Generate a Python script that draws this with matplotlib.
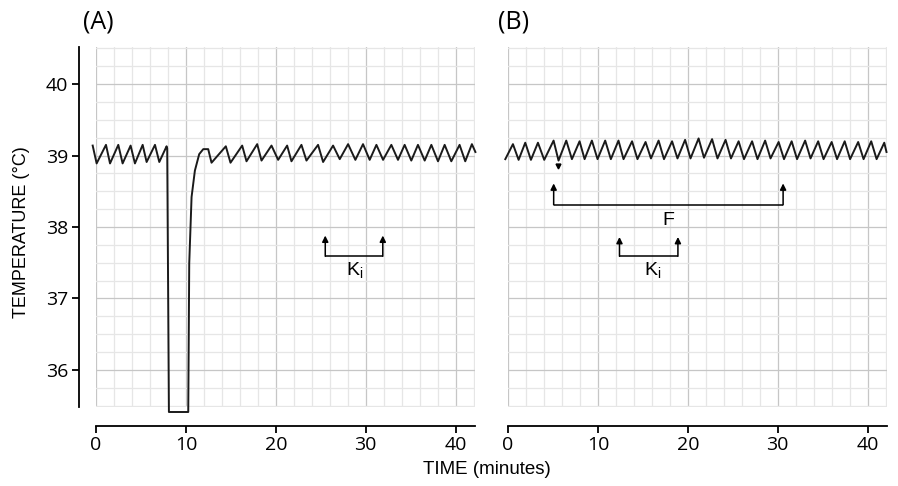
import matplotlib
matplotlib.use("Agg")
import matplotlib.pyplot as plt

# ---------------- data ----------------
# Panel A: body temperature trace (minutes, deg C)
a_time = [-0.37, 0.07, 1.11, 1.56, 2.48, 2.96, 3.85, 4.33, 5.19, 5.63, 6.56, 7.04, 7.85,
          7.92, 8.11, 10.26, 10.37, 10.63, 11.0, 11.48, 11.93, 12.48,
          12.85, 14.44, 14.96, 16.26, 16.74, 17.93, 18.41, 19.52, 20.26, 21.26, 21.74,
          22.85, 23.41, 24.70, 25.26, 26.37, 27.11, 28.04, 28.85, 29.70, 30.44, 31.19,
          31.93, 32.85, 33.59, 34.33, 35.07, 35.81, 36.56, 37.30, 38.04, 38.78, 39.52,
          40.44, 41.07, 41.81, 42.2]
a_temp = [39.14, 38.89, 39.15, 38.89, 39.15, 38.89, 39.14, 38.89, 39.15, 38.91, 39.15, 38.91, 39.13,
          39.10, 35.41, 35.41, 37.49, 38.42, 38.79, 39.02, 39.09, 39.09,
          38.90, 39.13, 38.90, 39.14, 38.92, 39.16, 38.93, 39.14, 38.94, 39.14, 38.92,
          39.15, 38.93, 39.15, 38.91, 39.14, 38.95, 39.16, 38.94, 39.16, 38.94, 39.15,
          38.94, 39.15, 38.94, 39.15, 38.93, 39.15, 38.93, 39.15, 38.92, 39.15, 38.92,
          39.15, 38.92, 39.16, 39.05]

# Panel B: body temperature trace (minutes, deg C)
b_time = [-0.3, 0.55, 1.18, 1.92, 2.55, 3.33, 4.03, 5.07, 5.62, 6.48, 7.11, 7.96, 8.52,
          9.33, 9.96, 10.81, 11.44, 12.29, 12.85, 13.8, 14.4, 15.3, 15.9, 16.75, 17.35,
          18.25, 18.85, 19.7, 20.3, 21.2, 21.8, 22.7, 23.3, 24.2, 24.8, 25.65, 26.25,
          27.15, 27.75, 28.6, 29.2, 30.1, 30.7, 31.55, 32.15, 33.05, 33.65, 34.5, 35.1,
          36.0, 36.6, 37.45, 38.05, 38.95, 39.55, 40.4, 41.0, 41.85, 42.1]
b_temp = [38.95, 39.16, 38.94, 39.18, 38.94, 39.18, 38.94, 39.21, 38.93, 39.21, 38.95, 39.20, 38.95,
          39.21, 38.95, 39.21, 38.95, 39.21, 38.95, 39.20, 38.95, 39.19, 38.96, 39.21, 38.95,
          39.20, 38.96, 39.22, 38.96, 39.24, 38.97, 39.23, 38.96, 39.22, 38.96, 39.20, 38.95,
          39.20, 38.95, 39.21, 38.96, 39.19, 38.95, 39.20, 38.95, 39.21, 38.96, 39.20, 38.95,
          39.19, 38.95, 39.20, 38.95, 39.19, 38.95, 39.20, 38.95, 39.18, 39.05]

x_ticks = [0, 10, 20, 30, 40]
y_ticks = [36, 37, 38, 39, 40]
panel_labels = ["(A)", "(B)"]

# bracket annotations: (x_left, x_right, y_base, y_tip, label, label_x, label_y)
a_brackets = [(25.5, 31.9, 37.59, 37.88, "Ki", 28.8, 37.39)]
b_brackets = [(5.08, 30.6, 38.31, 38.61, "F", 17.8, 38.09),
              (12.4, 18.9, 37.59, 37.86, "Ki", 16.1, 37.39)]
b_marker = (5.55, 38.86)

XMIN, XMAX = 0, 42.1
YMIN, YMAX = 35.48, 40.52

# ---------------- figure ----------------
W, H = 898, 486
fig = plt.figure(figsize=(W / 100, H / 100), dpi=100)

tick_font = "Open Sans"
label_font = "Liberation Sans"

def px_axes(x0, y0, x1, y1):
    return fig.add_axes([x0 / W, 1 - y1 / H, (x1 - x0) / W, (y1 - y0) / H])

axA = px_axes(96, 47, 474.5, 407)
axB = px_axes(508, 47, 886.5, 407)

minor_c = "#e6e6e6"
major_c = "#c6c6c6"

def style(ax, show_y):
    ax.set_xlim(XMIN, XMAX)
    ax.set_ylim(YMIN, YMAX)
    for gx in [v * 2 for v in range(0, 22)]:
        c = major_c if gx % 10 == 0 else minor_c
        ax.axvline(gx, color=c, lw=0.9, zorder=0)
    for i in range(0, 21):
        gy = 35.5 + 0.25 * i
        c = major_c if abs(gy - round(gy)) < 1e-6 else minor_c
        ax.axhline(gy, color=c, lw=0.9, zorder=0)
    for s in ["top", "right"]:
        ax.spines[s].set_visible(False)
    ax.spines["bottom"].set_position(("outward", 14))
    ax.spines["bottom"].set_linewidth(1.3)
    ax.set_xticks(x_ticks)
    ax.tick_params(axis="x", length=5, width=1.3, pad=2, labelsize=14)
    if show_y:
        ax.spines["left"].set_position(("outward", 12))
        ax.spines["left"].set_linewidth(1.3)
        ax.set_yticks(y_ticks)
        ax.tick_params(axis="y", length=5, width=1.3, pad=3, labelsize=14)
    else:
        ax.spines["left"].set_visible(False)
        ax.set_yticks([])
    for lab in ax.get_xticklabels() + ax.get_yticklabels():
        lab.set_fontfamily(tick_font)

def brackets(ax, items):
    for xl, xr, yb, yt, lab, lx, ly in items:
        ax.plot([xl, xr], [yb, yb], color="black", lw=1.1, solid_capstyle="butt")
        for xx in (xl, xr):
            ax.annotate("", xy=(xx, yt), xytext=(xx, yb),
                        arrowprops=dict(arrowstyle="-|>", mutation_scale=9, lw=1.1,
                                        color="black", shrinkA=0, shrinkB=0))
        txt = r"K$_\mathregular{i}$" if lab == "Ki" else lab
        ax.text(lx, ly, txt, ha="center", va="center", fontsize=14,
                family=label_font, color="black")

style(axA, True)
style(axB, False)

axA.plot(a_time, a_temp, color="#1a1a1a", lw=1.4, clip_on=False, zorder=3,
         solid_joinstyle="round")
axB.plot(b_time, b_temp, color="#1a1a1a", lw=1.4, clip_on=False, zorder=3,
         solid_joinstyle="round")

brackets(axA, a_brackets)
brackets(axB, b_brackets)
axB.plot([b_marker[0]], [b_marker[1]], marker="v", ms=3.5, color="black", zorder=4)

fig.text(98 / W, 1 - 22 / H, panel_labels[0], fontsize=18, family=tick_font,
         ha="center", va="center")
fig.text(514 / W, 1 - 22 / H, panel_labels[1], fontsize=18, family=tick_font,
         ha="center", va="center")

fig.text(22 / W, 1 - 232 / H, "TEMPERATURE (°C)", rotation=90, fontsize=13,
         family=label_font, ha="center", va="center")
fig.text(487 / W, 1 - 469 / H, "TIME (minutes)", fontsize=13.5,
         family=label_font, ha="center", va="center")

fig.savefig("out.png", dpi=100)
